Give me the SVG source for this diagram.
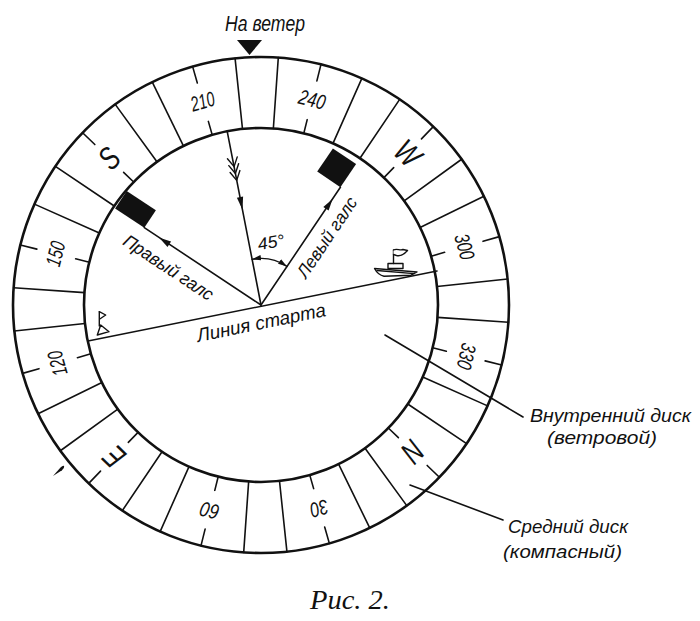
<svg xmlns="http://www.w3.org/2000/svg" width="700" height="621" viewBox="0 0 700 621">
<style>
 .ln{stroke:#111;fill:none;stroke-width:1.6;stroke-linecap:round}
 .thin{stroke:#111;fill:none;stroke-width:1.4;stroke-linecap:round;stroke-linejoin:round}
 .circ{stroke:#111;fill:none;stroke-width:2.6}
 .t{font-family:"Liberation Sans","DejaVu Sans",sans-serif;font-style:italic;fill:#111}
 .ring{font-size:21px;text-anchor:middle;dominant-baseline:central}
 .card{font-size:32px;text-anchor:middle;dominant-baseline:central}
 .lbl{font-size:19px}
 .side{font-size:18px}
 .cap{font-family:"Liberation Serif","DejaVu Serif",serif;font-style:italic;font-size:27px;fill:#111}
 .blk{fill:#111}
</style>
<defs>
 <line id="sp" x1="0" y1="-177" x2="0" y2="-248"/>
 <path id="tk" d="M0,-177V-191M0,-231V-248"/>
 <marker id="ah" viewBox="0 0 10 6" refX="10" refY="3" markerWidth="9" markerHeight="6" markerUnits="userSpaceOnUse" orient="auto-start-reverse"><path d="M0,0L10,3L0,6Z" fill="#111"/></marker>
</defs>
<rect width="700" height="621" fill="#fff"/>

<g id="wind-marker">
 <text class="t" x="265" y="31" font-size="22" text-anchor="middle" textLength="80" lengthAdjust="spacingAndGlyphs">На ветер</text>
 <polygon points="237,40 262,40 249.5,55" class="blk"/>
</g>

<g id="middle-disk" transform="translate(261,305)">
 <circle r="248" class="circ"/>
 <g class="ln">
  <use href="#sp" transform="rotate(4)"/><use href="#sp" transform="rotate(24)"/><use href="#sp" transform="rotate(34)"/>
  <use href="#sp" transform="rotate(54)"/><use href="#sp" transform="rotate(64)"/><use href="#sp" transform="rotate(84)"/>
  <use href="#sp" transform="rotate(94)"/><use href="#sp" transform="rotate(114)"/><use href="#sp" transform="rotate(124)"/>
  <use href="#sp" transform="rotate(144)"/><use href="#sp" transform="rotate(154)"/><use href="#sp" transform="rotate(174)"/>
  <use href="#sp" transform="rotate(184)"/><use href="#sp" transform="rotate(204)"/><use href="#sp" transform="rotate(214)"/>
  <use href="#sp" transform="rotate(234)"/><use href="#sp" transform="rotate(244)"/><use href="#sp" transform="rotate(264)"/>
  <use href="#sp" transform="rotate(274)"/><use href="#sp" transform="rotate(294)"/><use href="#sp" transform="rotate(304)"/>
  <use href="#sp" transform="rotate(324)"/><use href="#sp" transform="rotate(334)"/><use href="#sp" transform="rotate(354)"/>
  <use href="#tk" transform="rotate(14)"/><use href="#tk" transform="rotate(44)"/><use href="#tk" transform="rotate(74)"/>
  <use href="#tk" transform="rotate(104)"/><use href="#tk" transform="rotate(134)"/><use href="#tk" transform="rotate(164)"/>
  <use href="#tk" transform="rotate(194)"/><use href="#tk" transform="rotate(224)"/><use href="#tk" transform="rotate(254)"/>
  <use href="#tk" transform="rotate(284)"/><use href="#tk" transform="rotate(314)"/><use href="#tk" transform="rotate(344)"/>
 </g>
 <g id="ring-labels">
  <text class="t ring" transform="rotate(344) translate(0,-212)" textLength="24" lengthAdjust="spacingAndGlyphs">210</text>
  <text class="t ring" transform="rotate(14) translate(0,-212)" textLength="27" lengthAdjust="spacingAndGlyphs">240</text>
  <text class="t ring" transform="rotate(74) translate(0,-212)" textLength="26" lengthAdjust="spacingAndGlyphs">300</text>
  <text class="t ring" transform="rotate(104) translate(0,-212)" textLength="26" lengthAdjust="spacingAndGlyphs">330</text>
  <text class="t ring" transform="rotate(164) translate(0,-212)" textLength="18" lengthAdjust="spacingAndGlyphs">30</text>
  <text class="t ring" transform="rotate(194) translate(0,-212)" textLength="19" lengthAdjust="spacingAndGlyphs">60</text>
  <text class="t ring" transform="rotate(254) translate(0,-212)" textLength="25" lengthAdjust="spacingAndGlyphs">120</text>
  <text class="t ring" transform="rotate(284) translate(0,-212)" textLength="25" lengthAdjust="spacingAndGlyphs">150</text>
  <text class="t card" transform="rotate(314) translate(0,-211)" textLength="16" lengthAdjust="spacingAndGlyphs">S</text>
  <text class="t card" transform="rotate(44) translate(0,-211)" textLength="23" lengthAdjust="spacingAndGlyphs">W</text>
  <text class="t card" transform="rotate(134) translate(0,-211)" textLength="17" lengthAdjust="spacingAndGlyphs">N</text>
  <text class="t card" transform="rotate(224) translate(0,-211)" textLength="16" lengthAdjust="spacingAndGlyphs">E</text>
 </g>
</g>

<g id="inner-disk">
 <circle cx="261" cy="305" r="177" class="circ"/>
 <line x1="88" y1="341" x2="437" y2="271" class="ln" stroke-width="1.9"/>
 <text class="t lbl" transform="translate(262.5,329) rotate(-11.5)" text-anchor="middle" textLength="131" lengthAdjust="spacingAndGlyphs">Линия старта</text>
</g>

<g id="wind-arrow">
 <line x1="227.2" y1="131.3" x2="261" y2="305" class="ln"/>
 <path class="thin" d="M237.25,156.85L234.1,166.6L227.45,158.75M238.6,163.75L235.4,173.5L228.8,165.65M239.9,170.55L236.7,180.4L230.1,172.45"/>
 <polygon class="blk" points="242.5,209.8 243.1,196.5 236.9,197.7"/>
</g>

<g id="right-tack">
 <line x1="261" y1="305" x2="144.3" y2="227.7" class="ln"/>
 <polygon class="blk" points="159.3,237.7 171.1,241.6 167.5,247"/>
 <polygon class="blk" points="144.3,227.7 155.9,210.2 126.7,190.9 115.1,208.4"/>
 <text class="t" font-size="18" transform="translate(165,272.6) rotate(33.5)" text-anchor="middle" textLength="104" lengthAdjust="spacingAndGlyphs">Правый галс</text>
</g>

<g id="left-tack">
 <line x1="261" y1="305" x2="340.4" y2="187.3" class="ln"/>
 <polygon class="blk" points="332.6,198.9 328.6,210.6 323.3,207"/>
 <polygon class="blk" points="340.4,187.3 356.1,164.1 332.9,148.4 317.2,171.6"/>
 <text class="t" font-size="18" transform="translate(332.1,240.8) rotate(-56)" text-anchor="middle" textLength="93" lengthAdjust="spacingAndGlyphs">Левый галс</text>
</g>

<g id="angle-45">
 <path d="M252.1,259.35A46.5,46.5 0 0 1 287,266.45" class="thin" marker-start="url(#ah)" marker-end="url(#ah)"/>
 <text class="t" font-size="17" transform="translate(272,248) rotate(-10)" text-anchor="middle" textLength="27" lengthAdjust="spacingAndGlyphs">45°</text>
</g>

<g id="committee-boat" class="thin">
 <path d="M374.5,268.5L417,272L411,275.2L384,276.2Q378,275 374.5,268.5Z" fill="#fff"/>
 <path d="M377,270.5L414,273.6"/>
 <rect x="388" y="263.5" width="15" height="5" fill="#fff"/>
 <path d="M393.5,263.5V250"/>
 <path d="M393.5,250C397,248 400,251 403,249.5L407.5,250.5C405,253.5 401,256.5 396.5,255.5L393.5,254.5" fill="#fff"/>
</g>

<g id="start-buoy" class="thin">
 <path d="M99.3,311.7V326"/>
 <path d="M99.3,311.7L105.7,315L99.8,319"/>
 <path d="M100.7,325L109,331.7L97.3,335Z"/>
</g>

<path id="index-mark" class="blk" d="M53,476L60.5,467.5Q63,465 64.2,466Q64.6,468 62,470.2Z"/>

<g id="connectors" class="ln" stroke-width="1.4">
 <line x1="385" y1="335" x2="523" y2="417"/>
 <line x1="410" y1="485" x2="503" y2="520"/>
</g>

<g id="label-inner">
 <text class="t side" x="530" y="422" textLength="161" lengthAdjust="spacingAndGlyphs">Внутренний диск</text>
 <text class="t side" x="547" y="443.5" textLength="110" lengthAdjust="spacingAndGlyphs">(ветровой)</text>
</g>
<g id="label-middle">
 <text class="t side" x="508" y="533" textLength="120" lengthAdjust="spacingAndGlyphs">Средний диск</text>
 <text class="t side" x="503" y="558" textLength="119" lengthAdjust="spacingAndGlyphs">(компасный)</text>
</g>

<text class="cap" x="310" y="609" textLength="80" lengthAdjust="spacingAndGlyphs">Рис. 2.</text>
</svg>
